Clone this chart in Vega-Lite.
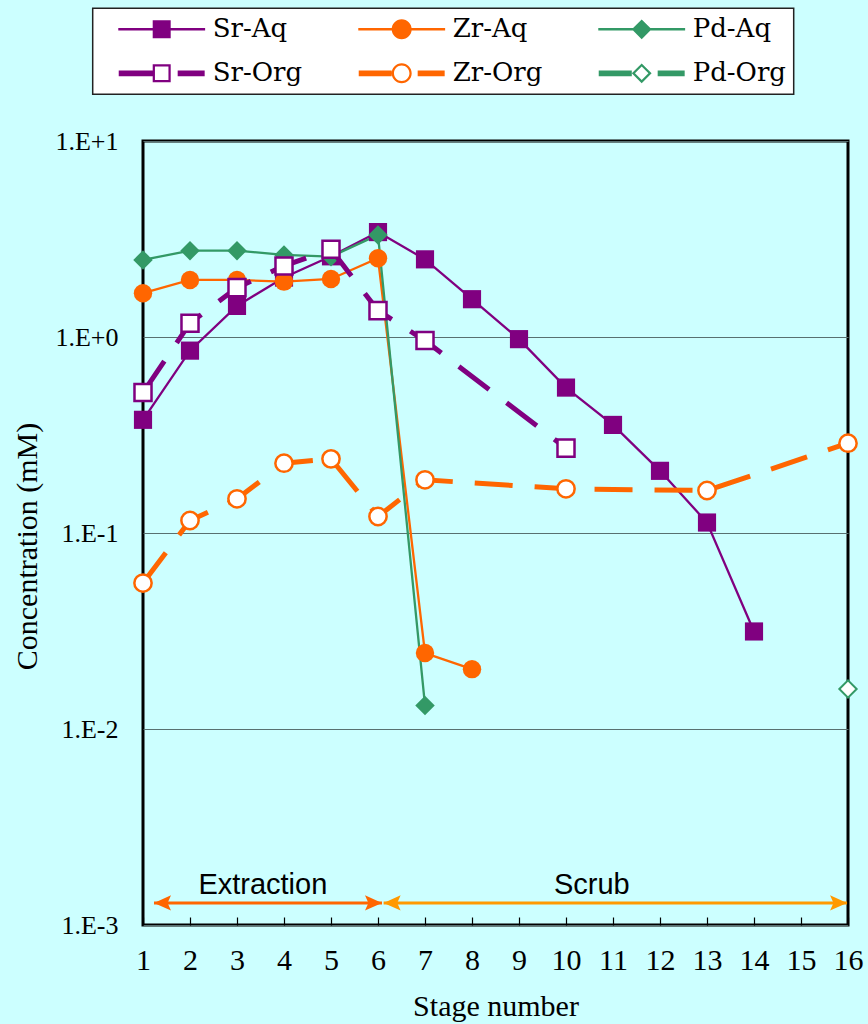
{
  "$schema": "https://vega.github.io/schema/vega-lite/v6.json",
  "width": 705,
  "height": 784,
  "autosize": "none",
  "padding": {"left": 143, "top": 141, "right": 20, "bottom": 99},
  "background": "#CCFFFF",
  "config": {
    "view": {"stroke": "black", "strokeWidth": 3, "fill": "#CCFFFF"},
    "axis": {"labelColor": "black", "titleColor": "black", "titleFontWeight": "normal", "labelFlush": false, "labelOverlap": false},
    "legend": {"strokeWidth": 1.5},
    "line": {"strokeCap": "butt"}
  },
  "datasets": {
    "conc": [
      {"series": "Sr-Aq", "element": "Sr", "phase": "Aq", "stage": 1, "value": 0.378},
      {"series": "Sr-Aq", "element": "Sr", "phase": "Aq", "stage": 2, "value": 0.852},
      {"series": "Sr-Aq", "element": "Sr", "phase": "Aq", "stage": 3, "value": 1.441},
      {"series": "Sr-Aq", "element": "Sr", "phase": "Aq", "stage": 4, "value": 2.01},
      {"series": "Sr-Aq", "element": "Sr", "phase": "Aq", "stage": 5, "value": 2.58},
      {"series": "Sr-Aq", "element": "Sr", "phase": "Aq", "stage": 6, "value": 3.43},
      {"series": "Sr-Aq", "element": "Sr", "phase": "Aq", "stage": 7, "value": 2.49},
      {"series": "Sr-Aq", "element": "Sr", "phase": "Aq", "stage": 8, "value": 1.559},
      {"series": "Sr-Aq", "element": "Sr", "phase": "Aq", "stage": 9, "value": 0.975},
      {"series": "Sr-Aq", "element": "Sr", "phase": "Aq", "stage": 10, "value": 0.552},
      {"series": "Sr-Aq", "element": "Sr", "phase": "Aq", "stage": 11, "value": 0.356},
      {"series": "Sr-Aq", "element": "Sr", "phase": "Aq", "stage": 12, "value": 0.2076},
      {"series": "Sr-Aq", "element": "Sr", "phase": "Aq", "stage": 13, "value": 0.1131},
      {"series": "Sr-Aq", "element": "Sr", "phase": "Aq", "stage": 14, "value": 0.03145},
      {"series": "Zr-Aq", "element": "Zr", "phase": "Aq", "stage": 1, "value": 1.673},
      {"series": "Zr-Aq", "element": "Zr", "phase": "Aq", "stage": 2, "value": 1.955},
      {"series": "Zr-Aq", "element": "Zr", "phase": "Aq", "stage": 3, "value": 1.955},
      {"series": "Zr-Aq", "element": "Zr", "phase": "Aq", "stage": 4, "value": 1.917},
      {"series": "Zr-Aq", "element": "Zr", "phase": "Aq", "stage": 5, "value": 1.978},
      {"series": "Zr-Aq", "element": "Zr", "phase": "Aq", "stage": 6, "value": 2.522},
      {"series": "Zr-Aq", "element": "Zr", "phase": "Aq", "stage": 7, "value": 0.0244},
      {"series": "Zr-Aq", "element": "Zr", "phase": "Aq", "stage": 8, "value": 0.0202},
      {"series": "Pd-Aq", "element": "Pd", "phase": "Aq", "stage": 1, "value": 2.473},
      {"series": "Pd-Aq", "element": "Pd", "phase": "Aq", "stage": 2, "value": 2.758},
      {"series": "Pd-Aq", "element": "Pd", "phase": "Aq", "stage": 3, "value": 2.758},
      {"series": "Pd-Aq", "element": "Pd", "phase": "Aq", "stage": 4, "value": 2.623},
      {"series": "Pd-Aq", "element": "Pd", "phase": "Aq", "stage": 5, "value": 2.57},
      {"series": "Pd-Aq", "element": "Pd", "phase": "Aq", "stage": 6, "value": 3.317},
      {"series": "Pd-Aq", "element": "Pd", "phase": "Aq", "stage": 7, "value": 0.01319},
      {"series": "Sr-Org", "element": "Sr", "phase": "Org", "stage": 1, "value": 0.5206},
      {"series": "Sr-Org", "element": "Sr", "phase": "Org", "stage": 2, "value": 1.176},
      {"series": "Sr-Org", "element": "Sr", "phase": "Org", "stage": 3, "value": 1.786},
      {"series": "Sr-Org", "element": "Sr", "phase": "Org", "stage": 4, "value": 2.305},
      {"series": "Sr-Org", "element": "Sr", "phase": "Org", "stage": 5, "value": 2.803},
      {"series": "Sr-Org", "element": "Sr", "phase": "Org", "stage": 6, "value": 1.363},
      {"series": "Sr-Org", "element": "Sr", "phase": "Org", "stage": 7, "value": 0.9585},
      {"series": "Sr-Org", "element": "Sr", "phase": "Org", "stage": 10, "value": 0.271},
      {"series": "Zr-Org", "element": "Zr", "phase": "Org", "stage": 1, "value": 0.05552},
      {"series": "Zr-Org", "element": "Zr", "phase": "Org", "stage": 2, "value": 0.1158},
      {"series": "Zr-Org", "element": "Zr", "phase": "Org", "stage": 3, "value": 0.1494},
      {"series": "Zr-Org", "element": "Zr", "phase": "Org", "stage": 4, "value": 0.2272},
      {"series": "Zr-Org", "element": "Zr", "phase": "Org", "stage": 5, "value": 0.2389},
      {"series": "Zr-Org", "element": "Zr", "phase": "Org", "stage": 6, "value": 0.1214},
      {"series": "Zr-Org", "element": "Zr", "phase": "Org", "stage": 7, "value": 0.1867},
      {"series": "Zr-Org", "element": "Zr", "phase": "Org", "stage": 10, "value": 0.168},
      {"series": "Zr-Org", "element": "Zr", "phase": "Org", "stage": 13, "value": 0.1647},
      {"series": "Zr-Org", "element": "Zr", "phase": "Org", "stage": 16, "value": 0.2873},
      {"series": "Pd-Org", "element": "Pd", "phase": "Org", "stage": 16, "value": 0.016}
    ],
    "spans": [
      {"section": "Extraction", "from": 1.234, "to": 6.085, "level": 0.0012965},
      {"section": "Scrub", "from": 6.12, "to": 15.98, "level": 0.0012965}
    ],
    "ends": [
      {"section": "Extraction", "side": "start", "stage": 1.234, "level": 0.0012965},
      {"section": "Extraction", "side": "end", "stage": 6.085, "level": 0.0012965},
      {"section": "Scrub", "side": "start", "stage": 6.12, "level": 0.0012965},
      {"section": "Scrub", "side": "end", "stage": 15.98, "level": 0.0012965}
    ],
    "names": [
      {"section": "Extraction", "stage": 3.55, "level": 0.001607},
      {"section": "Scrub", "stage": 10.55, "level": 0.001607}
    ]
  },
  "layer": [
    {
      "data": {"name": "conc"},
      "transform": [{"filter": "datum.phase === 'Aq'"}],
      "mark": {"type": "line", "strokeWidth": 2.3},
      "encoding": {
        "x": {
          "field": "stage", "type": "quantitative",
          "scale": {"domain": [1, 16], "nice": false, "zero": false},
          "axis": {
            "values": [1, 2, 3, 4, 5, 6, 7, 8, 9, 10, 11, 12, 13, 14, 15, 16],
            "grid": false, "domain": false,
            "ticks": true, "tickSize": -8, "tickColor": "black", "tickWidth": 1.2,
            "labelFont": "Liberation Serif", "labelFontSize": 30, "labelPadding": 28,
            "title": "Stage number", "titleFont": "Liberation Serif", "titleFontSize": 30, "titlePadding": 16
          }
        },
        "y": {
          "field": "value", "type": "quantitative",
          "scale": {"type": "log", "domain": [0.001, 10], "nice": false},
          "axis": {
            "values": [0.001, 0.01, 0.1, 1, 10],
            "labelExpr": "'1.E' + (datum.value >= 1 ? '+' : '-') + format(abs(round(log(datum.value) / LN10)), 'd')",
            "grid": true, "gridColor": "#587070", "gridWidth": 1,
            "ticks": false, "domain": false,
            "labelFont": "Liberation Serif", "labelFontSize": 26, "labelPadding": 25,
            "title": "Concentration (mM)", "titleFont": "Liberation Serif", "titleFontSize": 30, "titlePadding": 12,
            "titleY": 405
          }
        },
        "color": {
          "field": "element", "type": "nominal",
          "scale": {"domain": ["Sr", "Zr", "Pd"], "range": ["#800080", "#FF6600", "#339966"]},
          "legend": null
        }
      }
    },
    {
      "data": {"name": "conc"},
      "transform": [{"filter": "datum.series === 'Sr-Aq'"}],
      "mark": {"type": "point", "shape": "square", "filled": true, "opacity": 1, "size": 330},
      "encoding": {
        "x": {"field": "stage", "type": "quantitative"},
        "y": {"field": "value", "type": "quantitative"},
        "color": {"field": "element", "type": "nominal", "legend": null}
      }
    },
    {
      "data": {"name": "conc"},
      "transform": [{"filter": "datum.series === 'Zr-Aq'"}],
      "mark": {"type": "point", "shape": "circle", "filled": true, "opacity": 1, "size": 340},
      "encoding": {
        "x": {"field": "stage", "type": "quantitative"},
        "y": {"field": "value", "type": "quantitative"},
        "color": {"field": "element", "type": "nominal", "legend": null}
      }
    },
    {
      "data": {"name": "conc"},
      "transform": [{"filter": "datum.series === 'Pd-Aq'"}],
      "mark": {"type": "point", "shape": "diamond", "filled": true, "opacity": 1, "size": 380},
      "encoding": {
        "x": {"field": "stage", "type": "quantitative"},
        "y": {"field": "value", "type": "quantitative"},
        "color": {"field": "element", "type": "nominal", "legend": null}
      }
    },
    {
      "data": {"name": "conc"},
      "transform": [{"filter": "datum.phase === 'Org'"}],
      "mark": {"type": "line", "strokeWidth": 5, "strokeDash": [38, 22]},
      "encoding": {
        "x": {"field": "stage", "type": "quantitative"},
        "y": {"field": "value", "type": "quantitative"},
        "color": {"field": "element", "type": "nominal", "legend": null}
      }
    },
    {
      "data": {"name": "conc"},
      "transform": [{"filter": "datum.series === 'Sr-Org'"}],
      "mark": {"type": "point", "shape": "square", "filled": false, "fill": "white", "strokeWidth": 2.5, "opacity": 1, "size": 290},
      "encoding": {
        "x": {"field": "stage", "type": "quantitative"},
        "y": {"field": "value", "type": "quantitative"},
        "color": {"field": "element", "type": "nominal", "legend": null}
      }
    },
    {
      "data": {"name": "conc"},
      "transform": [{"filter": "datum.series === 'Zr-Org'"}],
      "mark": {"type": "point", "shape": "circle", "filled": false, "fill": "white", "strokeWidth": 2.5, "opacity": 1, "size": 300},
      "encoding": {
        "x": {"field": "stage", "type": "quantitative"},
        "y": {"field": "value", "type": "quantitative"},
        "color": {"field": "element", "type": "nominal", "legend": null}
      }
    },
    {
      "data": {"name": "conc"},
      "transform": [{"filter": "datum.series === 'Pd-Org'"}],
      "mark": {"type": "point", "shape": "diamond", "filled": false, "fill": "white", "strokeWidth": 2, "opacity": 1, "size": 300},
      "encoding": {
        "x": {"field": "stage", "type": "quantitative"},
        "y": {"field": "value", "type": "quantitative"},
        "color": {"field": "element", "type": "nominal", "legend": null}
      }
    },
    {
      "description": "Key carrier: unseen points whose shape and fill scales give the legend its line-and-marker keys.",
      "data": {"name": "conc"},
      "mark": {"type": "point", "filled": true, "opacity": 0},
      "encoding": {
        "x": {"field": "stage", "type": "quantitative"},
        "y": {"field": "value", "type": "quantitative"},
        "fill": {
          "field": "series", "type": "nominal",
          "scale": {
            "domain": ["Sr-Aq", "Zr-Aq", "Pd-Aq", "Sr-Org", "Zr-Org", "Pd-Org"],
            "range": ["#800080", "#FF6600", "#339966", "#800080", "#FF6600", "#339966"]
          }
        },
        "shape": {
          "field": "series", "type": "nominal",
          "scale": {
            "domain": ["Sr-Aq", "Zr-Aq", "Pd-Aq", "Sr-Org", "Zr-Org", "Pd-Org"],
            "range": [
              "M-0.965,-0.027H0.965V0.027H-0.965ZM-0.2,-0.2H0.2V0.2H-0.2Z",
              "M-0.965,-0.027H0.965V0.027H-0.965ZM-0.222,0A0.222,0.222,0,1,1,0.222,0A0.222,0.222,0,1,1,-0.222,0Z",
              "M-0.965,-0.027H0.965V0.027H-0.965ZM0,-0.22L0.22,0L0,0.22L-0.22,0Z",
              "M-0.955,-0.063H-0.2V0.063H-0.955ZM0.355,-0.063H0.955V0.063H0.355ZM-0.2,-0.2H0.2V0.2H-0.2ZM-0.15,-0.15V0.15H0.15V-0.15Z",
              "M-0.955,-0.063H-0.222V0.063H-0.955ZM0.355,-0.063H0.955V0.063H0.355ZM-0.222,0A0.222,0.222,0,1,1,0.222,0A0.222,0.222,0,1,1,-0.222,0ZM-0.172,0A0.172,0.172,0,1,0,0.172,0A0.172,0.172,0,1,0,-0.172,0Z",
              "M-0.955,-0.063H-0.22V0.063H-0.955ZM0.355,-0.063H0.955V0.063H0.355ZM0,-0.22L0.22,0L0,0.22L-0.22,0ZM0,-0.15L-0.15,0L0,0.15L0.15,0Z"
            ]
          },
          "legend": {
            "title": null,
            "orient": "none", "legendX": -50.3, "legendY": -132.7,
            "direction": "horizontal",
            "columns": 3, "gridAlign": "all", "columnPadding": 33, "rowPadding": 16,
            "clipHeight": 28,
            "padding": 7,
            "fillColor": "white", "strokeColor": "#222222",
            "symbolSize": 8100, "symbolStrokeWidth": 0, "symbolOffset": 17, "symbolOpacity": 1,
            "labelOffset": 6,
            "labelFont": "DejaVu Serif", "labelFontSize": 26, "labelColor": "black"
          }
        }
      }
    },
    {
      "data": {"name": "spans"},
      "mark": {"type": "rule", "strokeWidth": 3},
      "encoding": {
        "x": {"field": "from", "type": "quantitative"},
        "x2": {"field": "to"},
        "y": {"field": "level", "type": "quantitative"},
        "stroke": {
          "field": "section", "type": "nominal",
          "scale": {"domain": ["Extraction", "Scrub"], "range": ["#FF6600", "#FF9900"]},
          "legend": null
        }
      }
    },
    {
      "data": {"name": "ends"},
      "transform": [{"filter": "datum.section === 'Extraction' && datum.side === 'start'"}],
      "mark": {"type": "point", "filled": true, "fill": "#FF6600", "opacity": 1, "strokeWidth": 0, "size": 289, "shape": "M0,0L2,-0.9L1.6,0L2,0.9Z"},
      "encoding": {
        "x": {"field": "stage", "type": "quantitative"},
        "y": {"field": "level", "type": "quantitative"}
      }
    },
    {
      "data": {"name": "ends"},
      "transform": [{"filter": "datum.section === 'Extraction' && datum.side === 'end'"}],
      "mark": {"type": "point", "filled": true, "fill": "#FF6600", "opacity": 1, "strokeWidth": 0, "size": 289, "shape": "M0,0L-2,-0.9L-1.6,0L-2,0.9Z"},
      "encoding": {
        "x": {"field": "stage", "type": "quantitative"},
        "y": {"field": "level", "type": "quantitative"}
      }
    },
    {
      "data": {"name": "ends"},
      "transform": [{"filter": "datum.section === 'Scrub' && datum.side === 'start'"}],
      "mark": {"type": "point", "filled": true, "fill": "#FF9900", "opacity": 1, "strokeWidth": 0, "size": 289, "shape": "M0,0L2,-0.9L1.6,0L2,0.9Z"},
      "encoding": {
        "x": {"field": "stage", "type": "quantitative"},
        "y": {"field": "level", "type": "quantitative"}
      }
    },
    {
      "data": {"name": "ends"},
      "transform": [{"filter": "datum.section === 'Scrub' && datum.side === 'end'"}],
      "mark": {"type": "point", "filled": true, "fill": "#FF9900", "opacity": 1, "strokeWidth": 0, "size": 289, "shape": "M0,0L-2,-0.9L-1.6,0L-2,0.9Z"},
      "encoding": {
        "x": {"field": "stage", "type": "quantitative"},
        "y": {"field": "level", "type": "quantitative"}
      }
    },
    {
      "data": {"name": "names"},
      "mark": {"type": "text", "font": "Liberation Sans", "fontSize": 29, "fill": "black", "baseline": "middle", "align": "center"},
      "encoding": {
        "x": {"field": "stage", "type": "quantitative"},
        "y": {"field": "level", "type": "quantitative"},
        "text": {"field": "section"}
      }
    }
  ]
}
